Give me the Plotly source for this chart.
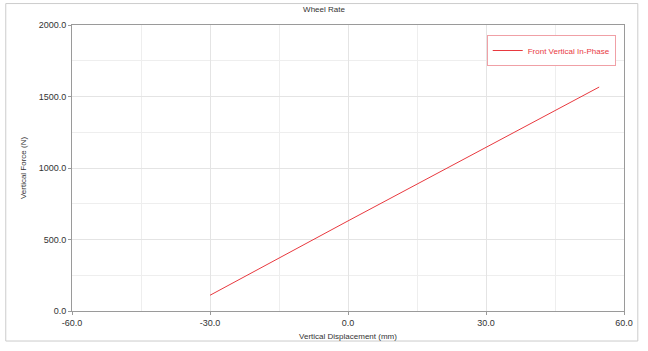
import plotly.graph_objects as go

# Wheel rate sweep: vertical displacement (mm) vs vertical force (N)
displacement = [-30.0, 0.0, 54.6]
force = [110.0, 630.0, 1566.0]
series_name = "Front Vertical In-Phase"

x_ticks = [-60, -30, 0, 30, 60]
y_ticks = [0, 500, 1000, 1500, 2000]

family = "Liberation Sans, Arial, sans-serif"
tick_font = dict(family=family, size=9, color="#333333")
title_font = dict(family=family, size=8, color="#333333")

fig = go.Figure()
fig.add_trace(go.Scatter(
    x=displacement, y=force, mode="lines", name=series_name,
    line=dict(color="#e8393f", width=1),
))

axis_common = dict(
    showline=True, linecolor="#9a9a9a", linewidth=1, mirror=True,
    gridcolor="#e4e4e4", gridwidth=1, zeroline=False,
    ticks="outside", ticklen=3, tickcolor="#9a9a9a",
    tickfont=tick_font,
)

fig.update_xaxes(
    range=[-60, 60], tickvals=x_ticks,
    ticktext=[f"{v:.1f}" for v in x_ticks],
    minor=dict(dtick=15, tick0=-60, showgrid=True, gridcolor="#eeeeee"),
    title=dict(text="Vertical Displacement (mm)", font=title_font, standoff=6),
    **axis_common,
)
fig.update_yaxes(
    range=[0, 2000], tickvals=y_ticks,
    ticktext=[f"{v:.1f}" for v in y_ticks],
    minor=dict(dtick=250, tick0=0, showgrid=True, gridcolor="#eeeeee"),
    title=dict(text="Vertical Force (N)", font=title_font, standoff=10),
    **axis_common,
)

fig.update_layout(
    width=648, height=351,
    margin=dict(l=72, r=24, t=25, b=38),
    paper_bgcolor="white", plot_bgcolor="white",
    title=dict(text="Wheel Rate", x=0.5, xanchor="center", y=0.975, yanchor="middle",
               font=title_font),
    showlegend=True,
    legend=dict(
        x=0.985, y=0.965, xanchor="right", yanchor="top",
        bgcolor="white", bordercolor="#f0a0a6", borderwidth=1,
        font=dict(family=family, size=8, color="#e8393f"),
        itemwidth=30, tracegroupgap=0,
    ),
    shapes=[dict(
        type="rect", xref="paper", yref="paper",
        x0=-0.12, x1=1.025, y0=-0.105, y1=1.075,
        line=dict(color="#cccccc", width=1), fillcolor="rgba(0,0,0,0)",
        layer="below",
    )],
)

fig.write_html("out.html")
